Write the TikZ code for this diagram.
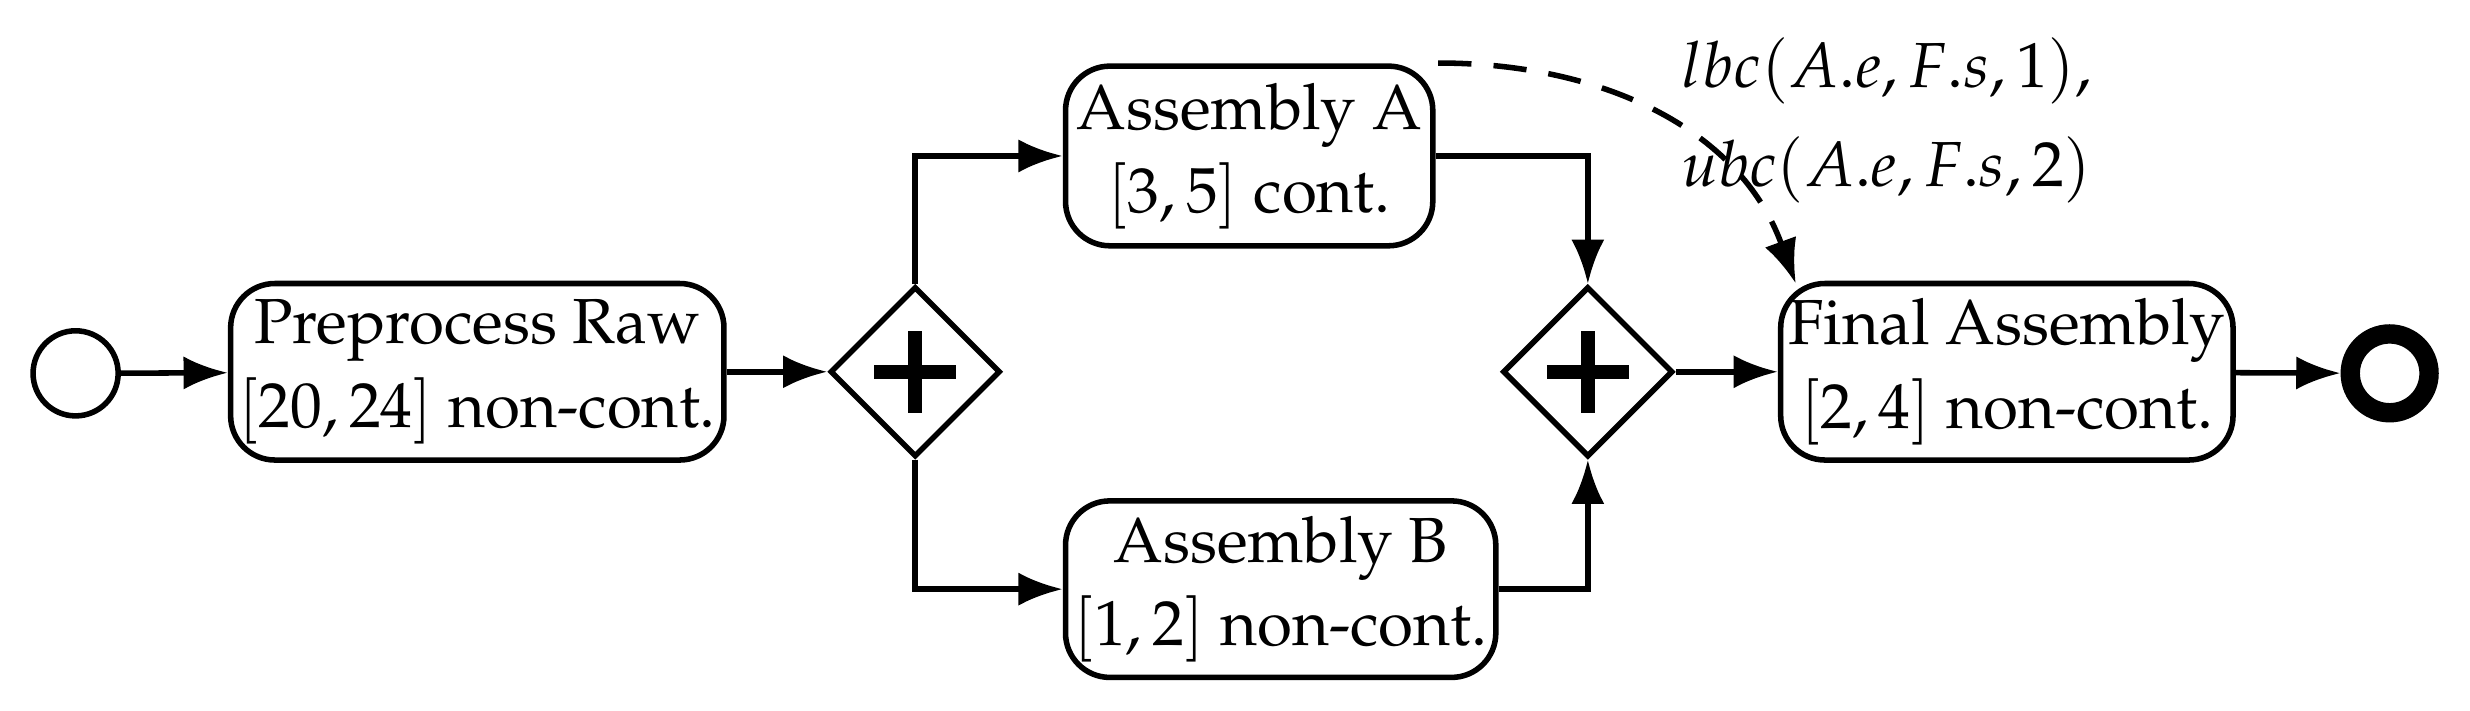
\documentclass[tikz,border=0pt]{standalone}
\usepackage[T1]{fontenc}
\usepackage{mathpazo}
\renewcommand{\rmdefault}{ppl}
\usetikzlibrary{shapes.geometric,arrows.meta}
\begin{document}
\fontfamily{ppl}\selectfont
\begin{tikzpicture}[x=0.01cm,y=-0.01cm,
  task/.style={draw,line width=1pt,rounded corners=8pt,align=center,inner sep=0pt,font=\fontfamily{ppl}\fontsize{11.5}{15}\selectfont},
  gw/.style={draw,diamond,line width=1pt,minimum width=1.08cm,minimum height=1.08cm,inner sep=0pt},
  ev/.style={draw,circle,minimum size=0.54cm,inner sep=0pt},
  flow/.style={line width=1pt,-{Latex[length=8pt,width=6pt]}}]
\useasboundingbox (0,0) rectangle (1568,451);
\node[ev,line width=1pt] (s) at (48,237) {};
\node[task,minimum width=3.13cm,minimum height=1.12cm] (p) at (303,236) {Preprocess Raw\\$[20,24]$ non-cont.};
\node[gw] (g1) at (581,236) {};
\node[task,minimum width=2.33cm,minimum height=1.14cm] (a) at (793,99) {Assembly A\\$[3,5]$ cont.};
\node[task,minimum width=2.73cm,minimum height=1.12cm] (b) at (813,374) {Assembly B\\$[1,2]$ non-cont.};
\node[gw] (g2) at (1008,236) {};
\node[task,minimum width=2.87cm,minimum height=1.12cm] (f) at (1274,236) {Final Assembly\\$[2,4]$ non-cont.};
\node[ev,line width=3.5pt,minimum size=0.5cm] (e) at (1517,237) {};
\foreach \g in {g1,g2}{
  \draw[line width=2.6pt] ([xshift=-0.26cm]\g.center) -- ([xshift=0.26cm]\g.center);
  \draw[line width=2.6pt] ([yshift=-0.26cm]\g.center) -- ([yshift=0.26cm]\g.center);}
\draw[flow] (s) -- (p);
\draw[flow] (p) -- (g1);
\draw[flow] (g1.north) |- (a.west);
\draw[flow] (g1.south) |- (b.west);
\draw[flow] (a.east) -| (g2.north);
\draw[flow] (b.east) -| (g2.south);
\draw[flow] (g2) -- (f);
\draw[flow] (f) -- (e);
\coordinate (ds) at (913,40);
\coordinate (de) at (1140,180);
\draw[line width=1pt,dash pattern=on 6pt off 4pt,-{Latex[length=8pt,width=6pt]}] (ds) to[out=0,in=110] (de);
\node[anchor=west,font=\fontsize{11.5}{15}\selectfont] (l1) at (1055,45) {$lbc(A.e,F.s,1),$};
\node[anchor=west,font=\fontsize{11.5}{15}\selectfont] (l2) at (1055,108) {$ubc(A.e,F.s,2)$};
\end{tikzpicture}
\end{document}
